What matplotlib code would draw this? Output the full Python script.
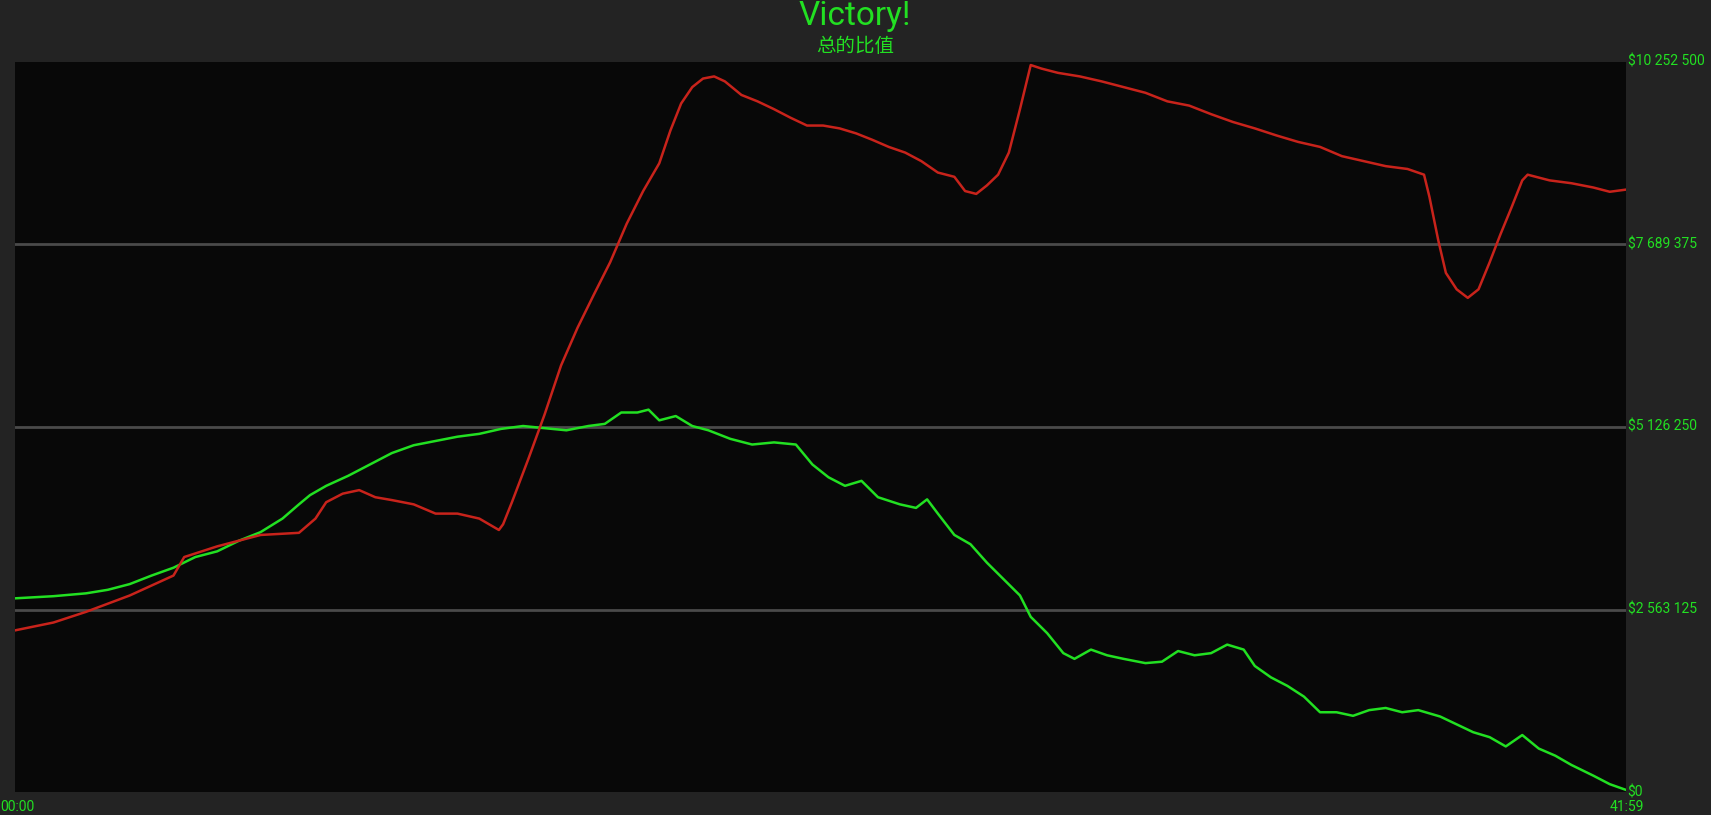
import matplotlib
matplotlib.use('Agg')
import matplotlib.pyplot as plt

# time in minutes, values in millions of $
red_t = [0, 1.00, 1.85, 2.99, 4.13, 4.41, 5.27, 6.40, 7.40, 7.83, 8.11, 8.54, 8.97, 9.39, 9.82,
         10.39, 10.96, 11.53, 12.10, 12.61, 12.72, 12.95, 13.38, 13.80, 14.23, 14.66, 15.08, 15.51,
         15.94, 16.37, 16.79, 17.08, 17.36, 17.65, 17.93, 18.22, 18.50, 18.93, 19.35, 19.78, 20.21,
         20.64, 21.06, 21.49, 21.92, 22.34, 22.77, 23.20, 23.62, 24.05, 24.48, 24.76, 25.05, 25.33,
         25.62, 25.90, 26.19, 26.47, 26.75, 27.18, 27.75, 28.32, 28.89, 29.46, 30.03, 30.60, 31.17,
         31.74, 32.31, 32.88, 33.44, 34.01, 34.58, 35.15, 35.72, 36.29, 36.72, 36.86, 37.09, 37.29,
         37.57, 37.86, 38.14, 38.43, 38.71, 39.00, 39.28, 39.42, 39.99, 40.56, 41.13, 41.56, 41.98]
red_v = [2.27, 2.38, 2.53, 2.76, 3.04, 3.30, 3.45, 3.61, 3.64, 3.84, 4.07, 4.19, 4.24, 4.14, 4.10,
         4.04, 3.91, 3.91, 3.84, 3.68, 3.76, 4.07, 4.68, 5.30, 5.99, 6.52, 6.98, 7.44,
         7.98, 8.44, 8.83, 9.29, 9.67, 9.90, 10.02, 10.05, 9.98, 9.79, 9.70, 9.59, 9.47,
         9.36, 9.36, 9.32, 9.25, 9.16, 9.06, 8.98, 8.86, 8.70, 8.64, 8.44, 8.40, 8.52,
         8.67, 8.98, 9.59, 10.21, 10.16, 10.10, 10.05, 9.98, 9.90, 9.82, 9.70, 9.64, 9.52,
         9.41, 9.32, 9.22, 9.13, 9.06, 8.93, 8.86, 8.79, 8.75, 8.67, 8.36, 7.75, 7.29,
         7.06, 6.94, 7.06, 7.44, 7.83, 8.21, 8.59, 8.67, 8.59, 8.55, 8.49, 8.43, 8.46]

green_t = [0, 1.00, 1.85, 2.42, 2.99, 3.56, 4.13, 4.70, 5.27, 5.84, 6.40, 6.97, 7.40, 7.69, 8.11,
           8.68, 9.25, 9.82, 10.39, 10.96, 11.53, 12.10, 12.67, 13.24, 13.80, 14.37, 14.94, 15.37,
           15.80, 16.22, 16.51, 16.79, 17.22, 17.65, 18.07, 18.64, 19.21, 19.78, 20.35, 20.78, 21.20,
           21.63, 22.06, 22.49, 23.06, 23.48, 23.77, 24.05, 24.48, 24.90, 25.33, 25.76, 26.19, 26.47,
           26.90, 27.32, 27.61, 28.04, 28.46, 28.89, 29.46, 29.89, 30.31, 30.74, 31.17, 31.59, 32.02,
           32.31, 32.73, 33.16, 33.59, 34.01, 34.44, 34.87, 35.29, 35.72, 36.15, 36.57, 37.14, 37.57,
           38.00, 38.43, 38.85, 39.28, 39.71, 40.14, 40.56, 41.13, 41.56, 41.98]
green_v = [2.72, 2.75, 2.79, 2.84, 2.92, 3.04, 3.15, 3.30, 3.38, 3.53, 3.65, 3.84, 4.04, 4.17, 4.30,
           4.44, 4.60, 4.76, 4.87, 4.93, 4.99, 5.03, 5.10, 5.14, 5.11, 5.08, 5.14, 5.17,
           5.33, 5.33, 5.37, 5.22, 5.28, 5.14, 5.08, 4.96, 4.88, 4.91, 4.88, 4.60, 4.42,
           4.30, 4.37, 4.14, 4.04, 3.99, 4.11, 3.91, 3.61, 3.48, 3.22, 2.99, 2.76, 2.46,
           2.23, 1.95, 1.87, 2.00, 1.92, 1.87, 1.81, 1.83, 1.98, 1.92, 1.95, 2.07, 2.00,
           1.77, 1.61, 1.49, 1.34, 1.12, 1.12, 1.07, 1.15, 1.18, 1.12, 1.15, 1.06, 0.95,
           0.84, 0.77, 0.64, 0.80, 0.61, 0.51, 0.38, 0.23, 0.11, 0.03]

y_ticks = [0, 2563125, 5126250, 7689375, 10252500]
y_labels = ['$0', '$2 563 125', '$5 126 250', '$7 689 375', '$10 252 500']
x_labels = ['00:00', '41:59']
total_min = 41 + 59 / 60

title = 'Victory!'
subtitle = '总的比值'

GREEN = '#22e022'
RED = '#c8231b'

fig = plt.figure(figsize=(17.11, 8.15), dpi=100, facecolor='#232323')
ax = fig.add_axes([15 / 1711, 1 - 792 / 815, (1626 - 15) / 1711, (792 - 62) / 815])
ax.set_facecolor('#080808')

for v in y_ticks[1:-1]:
    ax.axhline(v, color='#4a4a4a', lw=2, zorder=1)

ax.plot(green_t, [v * 1e6 for v in green_v], color=GREEN, lw=1.8, zorder=3)
ax.plot(red_t, [v * 1e6 for v in red_v], color=RED, lw=1.8, zorder=3)

ax.set_xlim(0, total_min)
ax.set_ylim(0, y_ticks[-1])
ax.set_xticks([])
ax.set_yticks([])
for s in ax.spines.values():
    s.set_visible(False)

# value labels on the right
for v, lab in zip(y_ticks, y_labels):
    ax.text(1.001, v, lab, transform=ax.get_yaxis_transform(), color=GREEN,
            fontsize=10, family='Roboto', ha='left', va='center', clip_on=False)

# time labels
fig.text(0, 1 - 807 / 815, x_labels[0], color=GREEN, fontsize=10, family='Roboto',
         ha='left', va='center')
fig.text(1627 / 1711, 1 - 807 / 815, x_labels[1], color=GREEN, fontsize=10, family='Roboto',
         ha='center', va='center')

fig.text(855 / 1711, 1 - 16 / 815, title, color=GREEN, fontsize=24, family='Roboto',
         ha='center', va='center')
fig.text(855 / 1711, 1 - 47 / 815, subtitle, color=GREEN, fontsize=14,
         family=['Noto Sans CJK SC', 'DejaVu Sans'], ha='center', va='center')

fig.savefig('out.png', dpi=100, facecolor=fig.get_facecolor())
